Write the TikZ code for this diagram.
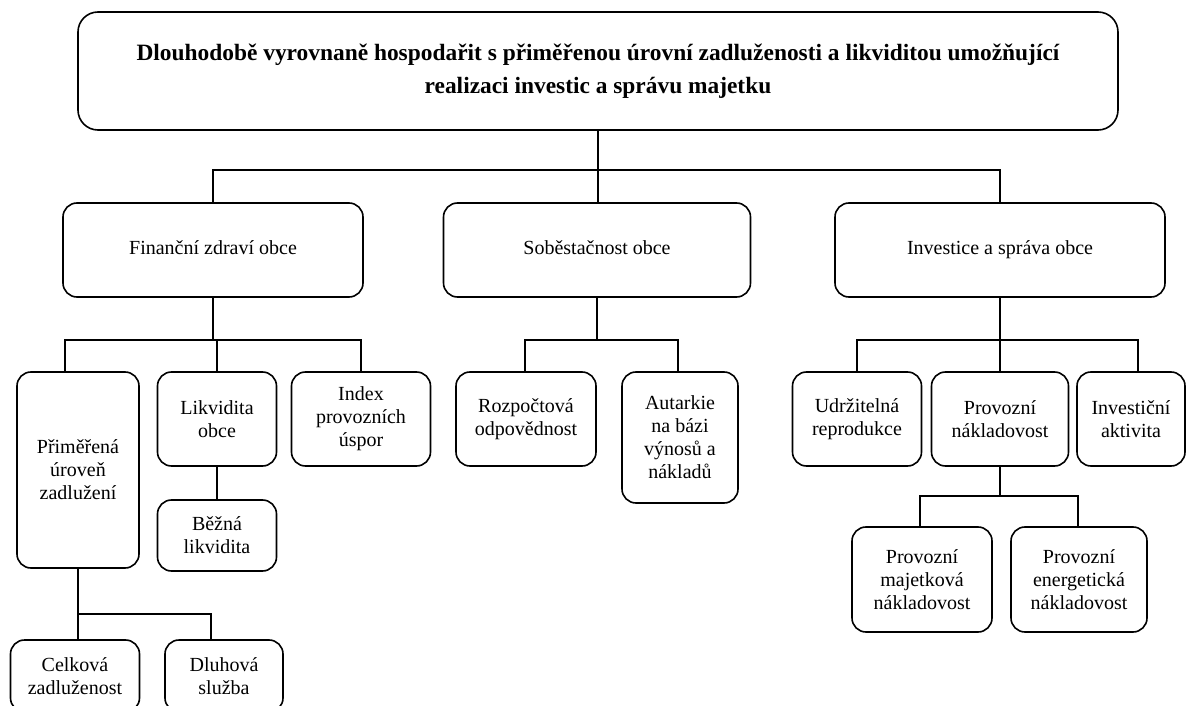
\documentclass[tikz,border=0pt]{standalone}
\usepackage{fontspec}
\setmainfont{Liberation Serif}
\usepackage{tikz}

\begin{document}
\begin{tikzpicture}[x=1pt,y=-1pt,
  box/.style={draw,line width=1.6pt,rounded corners=14pt,align=center,
    font=\fontsize{20}{23}\selectfont,inner sep=0pt},
  goalbox/.style={box,rounded corners=20pt,font=\bfseries\fontsize{23.4}{33}\selectfont},
  link/.style={line width=1.6pt}]

\useasboundingbox (0,0) rectangle (1187,706);

% hlavni cil
\node[goalbox,minimum width=1040pt,minimum height=118pt] (goal) at (598,71)
  {Dlouhodobě vyrovnaně hospodařit s přiměřenou úrovní zadluženosti a likviditou umožňující\\
   realizaci investic a správu majetku};

% oblasti
\node[box,minimum width=300pt,minimum height=94pt] (fin) at (213,250) {\strut Finanční zdraví obce};
\node[box,minimum width=307pt,minimum height=94pt] (sob) at (597,250) {\strut Soběstačnost obce};
\node[box,minimum width=330pt,minimum height=94pt] (inv) at (1000,250) {\strut Investice a správa obce};

% financni zdravi
\node[box,minimum width=122pt,minimum height=196pt] (prim) at (78,470) {Přiměřená\\úroveň\\zadlužení};
\node[box,minimum width=119pt,minimum height=94pt] (likv) at (217,419) {Likvidita\\obce};
\node[box,minimum width=139pt,minimum height=94pt] (index) at (361,419) {Index\\provozních\\úspor};
\node[box,minimum width=119pt,minimum height=71pt] (bezna) at (217,535.5) {Běžná\\likvidita};
\node[box,minimum width=129pt,minimum height=72pt] (celk) at (75,676) {Celková\\zadluženost};
\node[box,minimum width=118pt,minimum height=72pt] (dluh) at (224,676) {Dluhová\\služba};

% sobestacnost
\node[box,minimum width=140pt,minimum height=94pt] (rozp) at (526,419) {Rozpočtová\\odpovědnost};
\node[box,minimum width=116pt,minimum height=131pt] (autark) at (680,437.5) {Autarkie\\na bázi\\výnosů a\\nákladů};

% investice a sprava
\node[box,minimum width=129pt,minimum height=94pt] (udrz) at (857,419) {Udržitelná\\reprodukce};
\node[box,minimum width=137pt,minimum height=94pt] (provn) at (1000,419) {Provozní\\nákladovost};
\node[box,minimum width=108pt,minimum height=94pt] (invakt) at (1131,419) {Investiční\\aktivita};
\node[box,minimum width=140pt,minimum height=105pt] (provmaj) at (922,579.5) {Provozní\\majetková\\nákladovost};
\node[box,minimum width=136pt,minimum height=105pt] (provene) at (1079,579.5) {Provozní\\energetická\\nákladovost};

% spojnice
\coordinate (bus1) at (598,170);
\draw[link] (goal.south) -- (bus1);
\draw[link] (fin.north) |- (bus1) -| (inv.north);
\draw[link] (bus1) -- (bus1 |- sob.north);

\coordinate (bus2) at (213,340);
\draw[link] (fin.south) -- (bus2);
\draw[link] ([xshift=-13pt]prim.north) |- (bus2) -| (index.north);
\draw[link] (bus2 -| likv.north) -- (likv.north);
\draw[link] (likv.south) -- (bezna.north);

\coordinate (bus3) at (78,614);
\draw[link] (prim.south) -- (bus3);
\draw[link] ([xshift=3pt]celk.north) |- (bus3) -| ([xshift=-13pt]dluh.north);

\coordinate (bus4) at (597,340);
\draw[link] (sob.south) -- (bus4);
\draw[link] ([xshift=-1pt]rozp.north) |- (bus4) -| ([xshift=-2pt]autark.north);

\coordinate (bus5) at (1000,340);
\draw[link] (inv.south) -- (bus5);
\draw[link] (udrz.north) |- (bus5) -| ([xshift=7pt]invakt.north);
\draw[link] (bus5) -- (provn.north);

\coordinate (bus6) at (1000,496);
\draw[link] (provn.south) -- (bus6);
\draw[link] ([xshift=-2pt]provmaj.north) |- (bus6) -| ([xshift=-1pt]provene.north);

\end{tikzpicture}
\end{document}
